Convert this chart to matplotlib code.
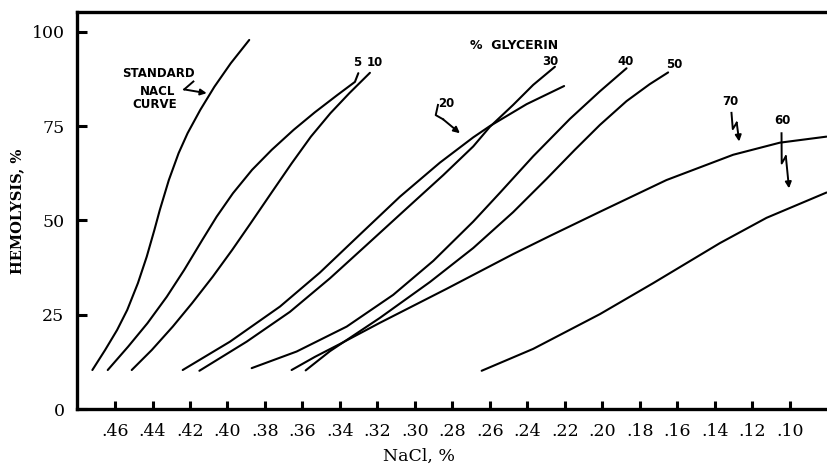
import matplotlib
matplotlib.use("Agg")
import matplotlib.pyplot as plt

# hemolysis curves read as (NaCl %, hemolysis %) pairs
std_nacl = [0.4721, 0.4653, 0.4589, 0.4535, 0.4478, 0.4431, 0.4390, 0.4361,
            0.4313, 0.4261, 0.4213, 0.4145, 0.4070, 0.3983, 0.3884]
std_hem = [10.4, 15.7, 21.0, 26.3, 33.4, 40.4, 47.5, 52.8,
           60.7, 67.8, 73.1, 79.3, 85.4, 91.6, 97.8]

g5_nacl = [0.4639, 0.4530, 0.4427, 0.4324, 0.4231, 0.4135, 0.4058, 0.3971,
           0.3869, 0.3764, 0.3647, 0.3535, 0.3417, 0.3320, 0.3302]
g5_hem = [10.4, 16.6, 22.8, 29.8, 36.9, 44.8, 51.0, 57.2,
          63.4, 68.7, 74.0, 78.6, 83.1, 86.7, 89.0]

g10_nacl = [0.4511, 0.4404, 0.4292, 0.4189, 0.4079, 0.3975, 0.3876,
            0.3766, 0.3658, 0.3555, 0.3451, 0.3350, 0.3240]
g10_hem = [10.4, 15.7, 21.9, 28.1, 35.1, 42.2, 49.3,
           57.3, 65.1, 72.2, 78.4, 83.7, 89.1]

g20_nacl = [0.4239, 0.3987, 0.3720, 0.3507, 0.3293, 0.3080, 0.2867, 0.2689,
            0.2600, 0.2404, 0.2204]
g20_hem = [10.4, 17.9, 27.2, 36.2, 46.3, 56.3, 65.3, 72.0,
           75.0, 80.8, 85.6]

g30_nacl = [0.4150, 0.3898, 0.3667, 0.3453, 0.3258, 0.3044, 0.2849, 0.2689,
            0.2600, 0.2476, 0.2369, 0.2253]
g30_hem = [10.2, 17.9, 25.8, 34.7, 43.5, 53.2, 62.0, 69.6,
           74.8, 80.6, 85.9, 90.7]

g40_nacl = [0.3871, 0.3631, 0.3364, 0.3116, 0.2902, 0.2689, 0.2547, 0.2369,
            0.2173, 0.2013, 0.1871]
g40_hem = [10.9, 15.3, 21.9, 30.3, 39.3, 49.7, 57.3, 67.0,
           76.9, 84.2, 90.3]

g50_nacl = [0.3583, 0.3453, 0.3187, 0.2920, 0.2689, 0.2476, 0.2298, 0.2147,
            0.2013, 0.1871, 0.1747, 0.1649]
g50_hem = [10.3, 15.4, 24.2, 33.7, 42.7, 52.2, 61.0, 68.7,
           75.3, 81.6, 86.1, 89.2]

g60_nacl = [0.2644, 0.2369, 0.2013, 0.1729, 0.1373, 0.1124, 0.0804]
g60_hem = [10.2, 16.0, 25.2, 33.4, 44.0, 50.7, 57.4]

g70_nacl = [0.3658, 0.3533, 0.3400, 0.3187, 0.2831, 0.2476, 0.2280, 0.2013,
            0.1658, 0.1302, 0.1053, 0.0804]
g70_hem = [10.4, 13.9, 17.3, 22.9, 31.9, 41.1, 45.9, 52.3,
           60.7, 67.4, 70.6, 72.2]

xtick_vals = [0.46, 0.44, 0.42, 0.40, 0.38, 0.36, 0.34, 0.32, 0.30, 0.28,
              0.26, 0.24, 0.22, 0.20, 0.18, 0.16, 0.14, 0.12, 0.10]
xtick_labels = [".46", ".44", ".42", ".40", ".38", ".36", ".34", ".32", ".30", ".28",
                ".26", ".24", ".22", ".20", ".18", ".16", ".14", ".12", ".10"]
ytick_vals = [0, 25, 50, 75, 100]

fig = plt.figure(figsize=(8.27, 4.69), dpi=100)
ax = fig.add_axes([0.0931, 0.1273, 0.9063, 0.8471])

curves = [(std_nacl, std_hem), (g5_nacl, g5_hem), (g10_nacl, g10_hem),
          (g20_nacl, g20_hem), (g30_nacl, g30_hem), (g40_nacl, g40_hem),
          (g50_nacl, g50_hem), (g60_nacl, g60_hem), (g70_nacl, g70_hem)]
for xs, ys in curves:
    ax.plot(xs, ys, color="black", lw=1.5, solid_capstyle="round",
            solid_joinstyle="round")

ax.set_xlim(0.4803, 0.0804)
ax.set_ylim(0, 105.2)

for side in ["left", "bottom", "top"]:
    ax.spines[side].set_linewidth(2.4)
ax.spines["right"].set_visible(False)

ax.set_xticks(xtick_vals)
ax.set_xticklabels(xtick_labels, family="DejaVu Serif", fontsize=12.5)
ax.set_yticks(ytick_vals)
ax.set_yticklabels([str(v) for v in ytick_vals], family="DejaVu Serif", fontsize=12.5)
ax.tick_params(axis="x", direction="in", length=6, width=2.2, pad=10)
ax.tick_params(axis="y", direction="in", length=7, width=2.2, pad=9)

fig.text(0.507, 0.028, "NaCl, %", family="DejaVu Serif", fontsize=12.5,
         ha="center", va="center")
fig.text(0.021, 0.55, "HEMOLYSIS, %", family="DejaVu Serif", fontsize=10.5,
         weight="bold", rotation=90, ha="center", va="center")

# hand-lettered labels
hand = dict(family="DejaVu Sans", weight="bold", fontsize=8.5, ha="center", va="center")
ax.text(0.4369, 88.8, "STANDARD", **hand)
ax.text(0.4373, 84.1, "NACL", **hand)
ax.text(0.4387, 80.6, "CURVE", **hand)
ax.text(0.3309, 91.7, "5", **hand)
ax.text(0.3213, 91.7, "10", **hand)
ax.text(0.2472, 96.2, "%  GLYCERIN", **dict(hand, fontsize=9))
ax.text(0.2280, 92.1, "30", **hand)
ax.text(0.1875, 92.0, "40", **hand)
ax.text(0.1619, 91.4, "50", **hand)
ax.text(0.2831, 81.0, "20", **hand)
ax.text(0.1315, 81.5, "70", **hand)
ax.text(0.1041, 76.6, "60", **hand)


def hook_arrow(xs, ys):
    ax.plot(xs[:-1], ys[:-1], color="black", lw=1.4)
    ax.annotate("", xy=(xs[-1], ys[-1]), xytext=(xs[-2], ys[-2]),
                arrowprops=dict(arrowstyle="-|>", color="black", lw=1.4,
                                mutation_scale=9, shrinkA=0, shrinkB=0))


hook_arrow([0.4182, 0.4231, 0.4111], [86.8, 84.7, 83.7])
hook_arrow([0.2877, 0.2889, 0.2850, 0.2760], [80.6, 77.9, 76.8, 73.1])
hook_arrow([0.1311, 0.1304, 0.1283, 0.1270], [78.5, 74.2, 75.9, 70.9])
hook_arrow([0.1044, 0.1043, 0.1021, 0.1004], [73.1, 65.1, 67.0, 58.5])

fig.savefig("out.png", dpi=100)
